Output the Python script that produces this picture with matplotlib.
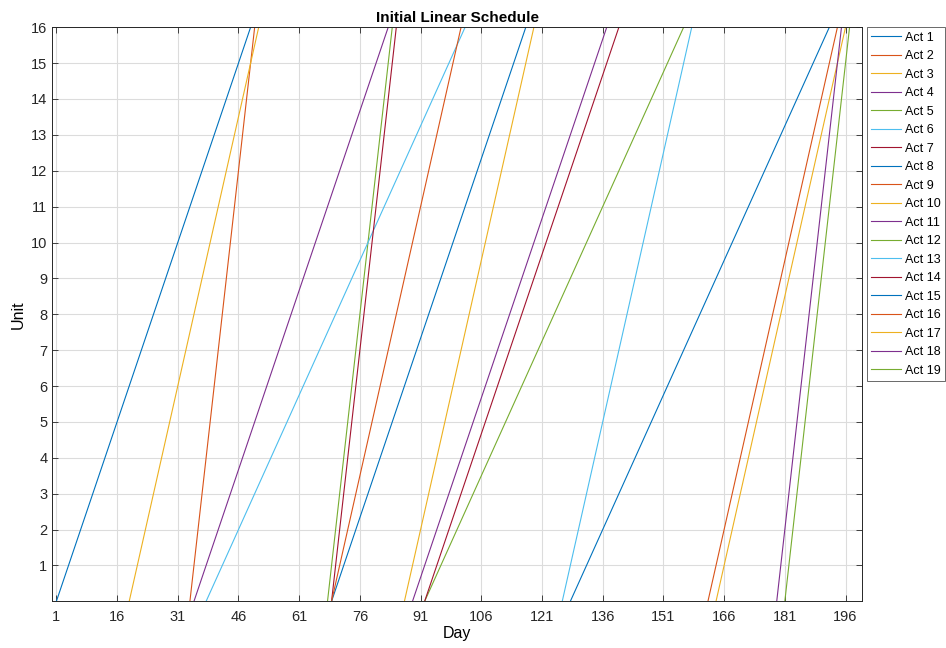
import matplotlib.pyplot as plt
import numpy as np

plt.rcParams['font.family'] = ['Liberation Sans', 'DejaVu Sans']
plt.rcParams['xtick.direction'] = 'in'
plt.rcParams['ytick.direction'] = 'in'

# start / finish day of each activity (unit 0 -> unit 16)
acts = ['Act %d' % i for i in range(1, 20)]
start_day = [1, 34, 19, 35, 68, 38, 69, 69, 69, 87, 89, 92, 126, 92, 128, 162, 164, 179, 181]
end_day = [49, 50, 51, 83, 84, 102, 85, 117, 101, 119, 137, 156, 158, 140, 192, 194, 196, 195, 197]
units = [0, 16]

# MATLAB default colour order
colors = ['#0072BD', '#D95319', '#EDB120', '#7E2F8E', '#77AC30', '#4DBEEE', '#A2142F']

fig = plt.figure(figsize=(9.46, 6.48), dpi=100)
ax = fig.add_axes([0.0553, 0.072, 0.8556, 0.886])

for i, name in enumerate(acts):
    ax.plot([start_day[i], end_day[i]], units, color=colors[i % 7], lw=0.8, label=name)

ax.set_xlim(0, 200)
ax.set_ylim(0, 16)
ax.set_xticks(np.arange(1, 197, 15))
ax.set_yticks(np.arange(1, 17))
ax.tick_params(labelsize=10.5, colors='#262626', top=True, right=True, length=4, width=0.6)
ax.tick_params(axis='x', pad=6)
ax.grid(True, color='#dcdcdc', lw=0.8)
ax.set_axisbelow(True)
for s in ax.spines.values():
    s.set_color('#262626')
    s.set_linewidth(0.7)

ax.set_xlabel('Day', fontsize=11.5, labelpad=2)
ax.set_ylabel('Unit', fontsize=11.5, labelpad=4)
ax.set_title('Initial Linear Schedule', fontsize=11, fontweight='bold', pad=4)

leg = ax.legend(loc='upper left', bbox_to_anchor=(1.006, 1.0), borderaxespad=0,
                fontsize=9, fancybox=False, edgecolor='#262626', handlelength=2.4,
                handletextpad=0.3, labelspacing=0.52, borderpad=0.35)
leg.get_frame().set_linewidth(0.6)

plt.savefig('out.png')
